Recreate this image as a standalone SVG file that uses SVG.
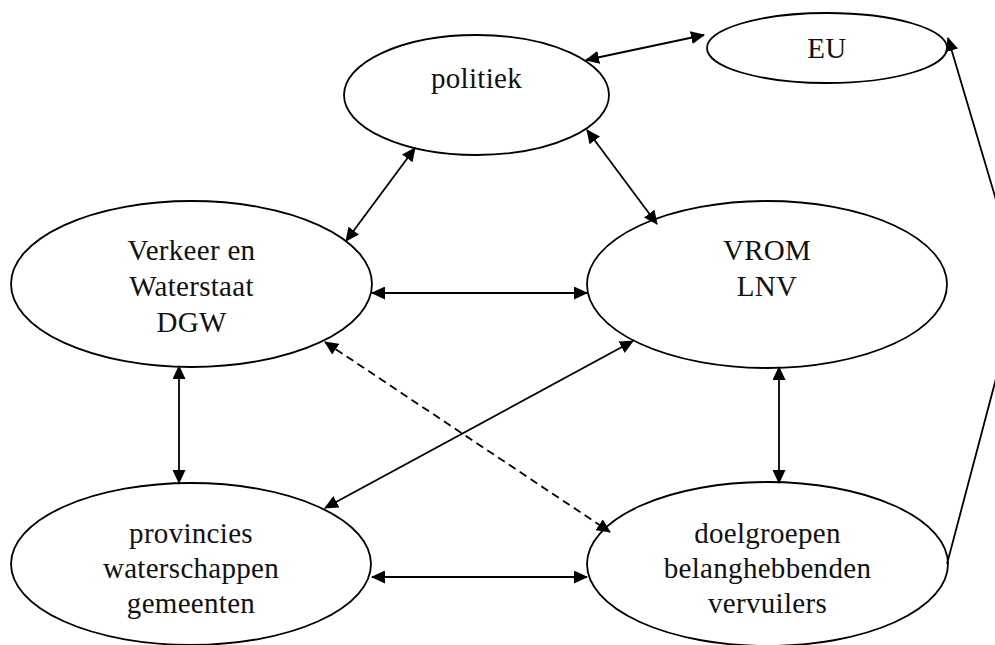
<svg xmlns="http://www.w3.org/2000/svg" width="995" height="645" viewBox="0 0 995 645">
<defs>
<style>
.node ellipse{fill:#fff;stroke:#000;stroke-width:1.8}
.node text{font-family:"Liberation Serif","Times New Roman",serif;font-size:29px;fill:#111;text-anchor:middle;letter-spacing:0.3px}
.edges line,.edges polyline{stroke:#000;stroke-width:1.8;fill:none}
.dash{stroke-dasharray:8 5}
</style>
<marker id="ah" viewBox="0 0 14 13" markerWidth="14" markerHeight="13" refX="13" refY="6.5" orient="auto-start-reverse" markerUnits="userSpaceOnUse">
<path d="M0,0 L14,6.5 L0,13 z" fill="#000"/>
</marker>
</defs>
<rect width="995" height="645" fill="#fff"/>
<g id="n-politiek" class="node">
<ellipse cx="476.5" cy="95" rx="132.5" ry="60"/>
<text x="476.5" y="88">politiek</text>
</g>
<g id="n-eu" class="node">
<ellipse cx="827" cy="48" rx="120" ry="35"/>
<text x="827" y="58">EU</text>
</g>
<g id="n-verkeer" class="node">
<ellipse cx="191.5" cy="284" rx="180.5" ry="83"/>
<text x="191.5" y="260">Verkeer en</text>
<text x="191.5" y="296">Waterstaat</text>
<text x="191.5" y="332">DGW</text>
</g>
<g id="n-vrom" class="node">
<ellipse cx="767" cy="284.5" rx="180" ry="83.5"/>
<text x="767" y="260">VROM</text>
<text x="767" y="296">LNV</text>
</g>
<g id="n-provincies" class="node">
<ellipse cx="191" cy="564" rx="180" ry="81"/>
<text x="191" y="543">provincies</text>
<text x="191" y="578">waterschappen</text>
<text x="191" y="613">gemeenten</text>
</g>
<g id="n-doelgroepen" class="node">
<ellipse cx="767.5" cy="564" rx="180.5" ry="82"/>
<text x="767.5" y="543">doelgroepen</text>
<text x="767.5" y="578">belanghebbenden</text>
<text x="767.5" y="613">vervuilers</text>
</g>
<g id="edges" class="edges">
<line x1="586" y1="60" x2="704" y2="35" marker-start="url(#ah)" marker-end="url(#ah)"/>
<line x1="415" y1="148" x2="346" y2="241" marker-start="url(#ah)" marker-end="url(#ah)"/>
<line x1="587" y1="130" x2="657" y2="224" marker-start="url(#ah)" marker-end="url(#ah)"/>
<line x1="372" y1="293" x2="587" y2="293" marker-start="url(#ah)" marker-end="url(#ah)"/>
<line x1="179" y1="366" x2="179" y2="483" marker-start="url(#ah)" marker-end="url(#ah)"/>
<line x1="779" y1="367" x2="779" y2="483" marker-start="url(#ah)" marker-end="url(#ah)"/>
<line x1="325" y1="508" x2="633" y2="341" marker-start="url(#ah)" marker-end="url(#ah)"/>
<line class="dash" x1="325" y1="342" x2="610" y2="532" marker-start="url(#ah)" marker-end="url(#ah)"/>
<line x1="372" y1="577" x2="587" y2="577" marker-start="url(#ah)" marker-end="url(#ah)"/>
<polyline points="947,564 1021,284 948,38" marker-end="url(#ah)"/>
</g>
</svg>
